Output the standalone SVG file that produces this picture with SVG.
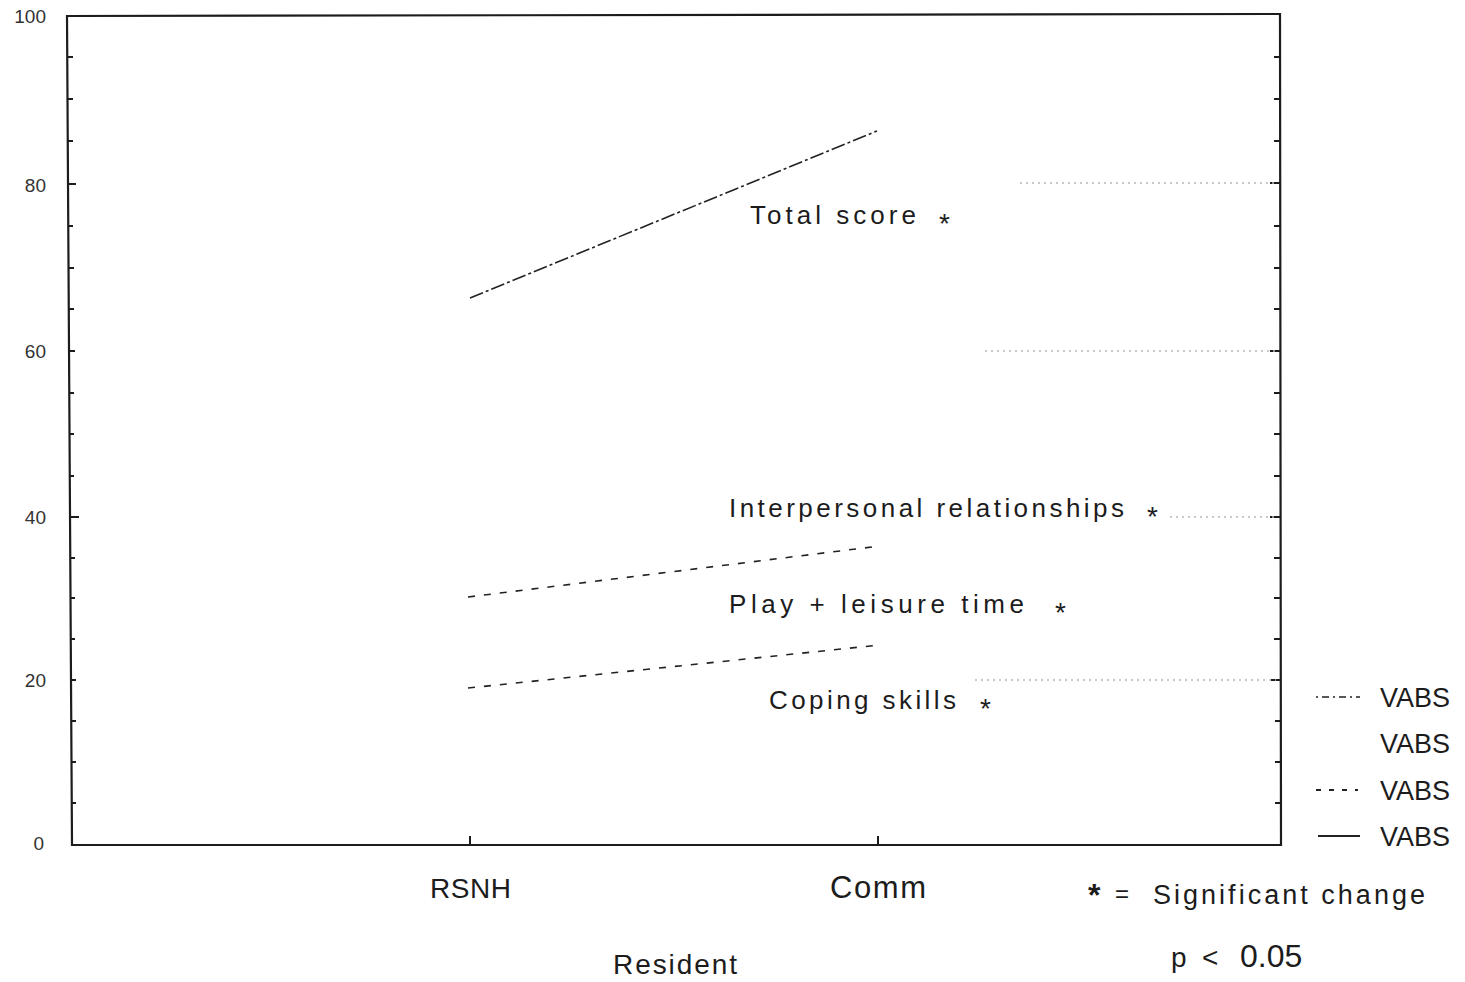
<svg xmlns="http://www.w3.org/2000/svg" width="1465" height="982" viewBox="0 0 1465 982">
<style>
text{font-family:"Liberation Sans",Arial,sans-serif;fill:#1c1c1c}
.ax{fill:none;stroke:#1c1c1c;stroke-width:2.2}
.tk{stroke:#1c1c1c;stroke-width:2}
.ylab{font-size:19px;text-anchor:end;fill:#333}
.lab{font-size:26px}
.xl{font-size:28px}
.leg{font-size:27px}
.star{font-size:28px}
.faint{stroke:#b8b8b8;stroke-width:1.5;stroke-dasharray:2 4;fill:none}
</style>
<rect width="1465" height="982" fill="#ffffff"/>
<g id="frame">
<path class="ax" d="M67,16 L1280,14 L1281,845 L72,845 Z"/>
<g id="left-ticks">
<line class="tk" x1="68" y1="57" x2="73" y2="57"/>
<line class="tk" x1="68" y1="99" x2="73" y2="99"/>
<line class="tk" x1="68" y1="141" x2="73" y2="141"/>
<line class="tk" x1="68" y1="184" x2="76" y2="184"/>
<line class="tk" x1="68" y1="226" x2="73" y2="226"/>
<line class="tk" x1="69" y1="268" x2="74" y2="268"/>
<line class="tk" x1="69" y1="309" x2="74" y2="309"/>
<line class="tk" x1="69" y1="351" x2="75" y2="351"/>
<line class="tk" x1="69" y1="393" x2="74" y2="393"/>
<line class="tk" x1="69" y1="434" x2="74" y2="434"/>
<line class="tk" x1="69" y1="476" x2="74" y2="476"/>
<line class="tk" x1="70" y1="517" x2="79" y2="517"/>
<line class="tk" x1="70" y1="558" x2="75" y2="558"/>
<line class="tk" x1="70" y1="598" x2="75" y2="598"/>
<line class="tk" x1="70" y1="639" x2="75" y2="639"/>
<line class="tk" x1="71" y1="680" x2="76" y2="680"/>
<line class="tk" x1="71" y1="721" x2="76" y2="721"/>
<line class="tk" x1="71" y1="762" x2="76" y2="762"/>
<line class="tk" x1="71" y1="803" x2="76" y2="803"/>
</g>
<g id="right-ticks">
<line class="tk" x1="1280" y1="57" x2="1274" y2="57"/>
<line class="tk" x1="1280" y1="99" x2="1274" y2="99"/>
<line class="tk" x1="1280" y1="141" x2="1274" y2="141"/>
<line class="tk" x1="1280" y1="183" x2="1270" y2="183"/>
<line class="tk" x1="1280" y1="226" x2="1274" y2="226"/>
<line class="tk" x1="1280" y1="268" x2="1274" y2="268"/>
<line class="tk" x1="1280" y1="309" x2="1274" y2="309"/>
<line class="tk" x1="1280" y1="351" x2="1270" y2="351"/>
<line class="tk" x1="1280" y1="393" x2="1274" y2="393"/>
<line class="tk" x1="1280" y1="434" x2="1274" y2="434"/>
<line class="tk" x1="1280" y1="476" x2="1274" y2="476"/>
<line class="tk" x1="1280" y1="517" x2="1270" y2="517"/>
<line class="tk" x1="1280" y1="558" x2="1274" y2="558"/>
<line class="tk" x1="1280" y1="598" x2="1274" y2="598"/>
<line class="tk" x1="1280" y1="639" x2="1274" y2="639"/>
<line class="tk" x1="1281" y1="680" x2="1271" y2="680"/>
<line class="tk" x1="1281" y1="721" x2="1275" y2="721"/>
<line class="tk" x1="1281" y1="762" x2="1275" y2="762"/>
<line class="tk" x1="1281" y1="803" x2="1275" y2="803"/>
</g>
<g id="bottom-ticks">
<line class="tk" x1="470" y1="845" x2="470" y2="836"/>
<line class="tk" x1="878" y1="845" x2="878" y2="836"/>
</g>
</g>
<g id="y-labels">
<text class="ylab" x="46" y="23">100</text>
<text class="ylab" x="46" y="192">80</text>
<text class="ylab" x="46" y="358">60</text>
<text class="ylab" x="46" y="524">40</text>
<text class="ylab" x="46" y="687">20</text>
<text class="ylab" x="44" y="850">0</text>
</g>
<g id="x-labels">
<text class="xl" x="430" y="898" textLength="81" lengthAdjust="spacing">RSNH</text>
<text x="830" y="898" font-size="31" textLength="96" lengthAdjust="spacing">Comm</text>
<text class="xl" x="613" y="974" textLength="124" lengthAdjust="spacing">Resident</text>
</g>
<g id="connectors">
<line x1="470" y1="298" x2="877" y2="131" stroke="#222" stroke-width="1.6" stroke-dasharray="14 3 3 3"/>
<line x1="468" y1="597" x2="880" y2="546" stroke="#222" stroke-width="1.6" stroke-dasharray="7 9"/>
<line x1="468" y1="688" x2="880" y2="645" stroke="#222" stroke-width="1.6" stroke-dasharray="7 9"/>
<g id="faint-lines">
<line class="faint" x1="1020" y1="183" x2="1276" y2="183"/>
<line class="faint" x1="985" y1="351" x2="1276" y2="351"/>
<line class="faint" x1="1170" y1="517" x2="1276" y2="517"/>
<line class="faint" x1="975" y1="680" x2="1276" y2="680"/>
</g>
</g>
<g id="total-score">
<text class="lab" x="750" y="224" textLength="166" lengthAdjust="spacing">Total score</text>
<text class="star" x="939" y="233">*</text>
</g>
<g id="interpersonal">
<text class="lab" x="729" y="517" textLength="395" lengthAdjust="spacing">Interpersonal relationships</text>
<text class="star" x="1147" y="526">*</text>
</g>
<g id="play">
<text class="lab" x="729" y="613" textLength="295" lengthAdjust="spacing">Play + leisure time</text>
<text class="star" x="1055" y="622">*</text>
</g>
<g id="coping">
<text class="lab" x="769" y="709" textLength="187" lengthAdjust="spacing">Coping skills</text>
<text class="star" x="980" y="718">*</text>
</g>
<g id="legend">
<line x1="1316" y1="697" x2="1360" y2="697" stroke="#222" stroke-width="1.6" stroke-dasharray="2 4 7 4"/>
<text class="leg" x="1380" y="707">VABS</text>
<text class="leg" x="1380" y="753">VABS</text>
<line x1="1316" y1="790" x2="1358" y2="790" stroke="#222" stroke-width="1.8" stroke-dasharray="5 8"/>
<text class="leg" x="1380" y="800">VABS</text>
<line x1="1318" y1="836" x2="1360" y2="836" stroke="#222" stroke-width="1.8"/>
<text class="leg" x="1380" y="846">VABS</text>
</g>
<g id="significance">
<text x="1088" y="906" font-size="32" font-weight="bold">*</text>
<text x="1115" y="902" font-size="24">=</text>
<text x="1153" y="904" font-size="27" textLength="272" lengthAdjust="spacing">Significant change</text>
<text x="1171" y="967" font-size="28">p<tspan x="1202">&lt;</tspan><tspan x="1240" font-size="32">0.05</tspan></text>
</g>
</svg>
